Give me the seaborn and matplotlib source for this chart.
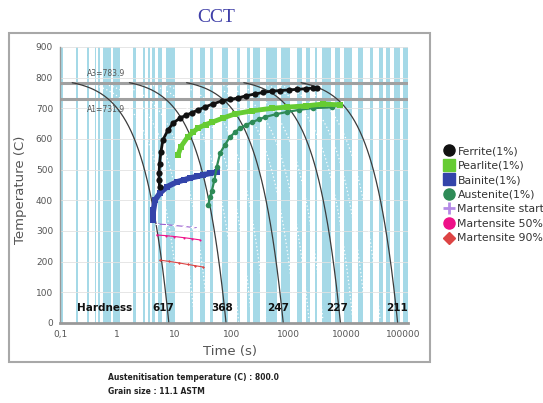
import numpy as np
import matplotlib
matplotlib.use("Agg")
import matplotlib.pyplot as plt
import seaborn as sns
from matplotlib.lines import Line2D
from matplotlib.patches import Rectangle
from matplotlib.ticker import FixedLocator, NullLocator, MultipleLocator

# ---------------- data ----------------
austenitisation_T = 800.0
cooling_rates = [100, 10, 1, 0.1, 0.01]            # main cooling curves (C/s)
minor_rates = [60, 35, 20, 6, 3.5, 2, 0.6, 0.35, 0.2, 0.06, 0.035, 0.02]
hardness_values = [617, 368, 247, 227, 211]
hardness_times = [6.3, 68, 650, 6900, 78000]
hardness_title_time = 0.61
hardness_T = 49

A3_T = 783.9
A1_T = 731.9

ferrite_t = [5.5, 5.4, 5.4, 5.5, 5.8, 6.3, 7.7, 9.5, 12.5, 16, 20, 26, 34, 48, 68, 95,
             130, 180, 260, 360, 500, 700, 1000, 1400, 2000, 2600, 3100]
ferrite_T = [445, 465, 490, 520, 557, 597, 629, 652, 668, 678, 685, 695, 704, 715, 724, 729,
             734, 741, 747, 752, 756, 758, 760, 762, 764, 766, 767]

pearlite_t = [11.6, 13, 17, 21, 26, 35, 46, 70, 115, 230, 500, 930, 2000, 4000, 8000]
pearlite_T = [548, 575, 606, 622, 636, 647, 655, 668, 682, 692, 700, 704, 708, 714, 711]

bainite_t = [4.2, 4.2, 4.3, 4.6, 5.6, 7.4, 11, 15, 19, 25, 32, 42, 55]
bainite_T = [336, 350, 368, 401, 424, 444, 460, 467, 473, 478, 483, 488, 492]

austenite_t = [39, 42, 45, 50, 55, 63, 76, 93, 115, 140, 180, 230, 300, 390, 600, 930,
               1500, 2700, 5700]
austenite_T = [385, 410, 430, 466, 509, 554, 580, 606, 622, 636, 646, 655, 664, 672, 681, 688,
               695, 701, 703]

ms_start_t = [4.9, 7, 10, 15, 20, 25]
ms_start_T = [323, 321, 318, 315, 312, 310]
ms50_t = [4.9, 7, 10, 15, 20, 28]
ms50_T = [287, 285, 282, 278, 275, 271]
ms90_t = [5.6, 8, 12, 17, 23, 31]
ms90_T = [205, 201, 196, 191, 187, 183]

band_start_log = [-1.000, -0.720, -0.528, -0.388, -0.336, -0.248, -0.073, 0.276, 0.451, 0.538,
                  0.608, 0.713, 0.853, 1.273, 1.448, 1.622, 1.832, 2.094, 2.269, 2.374, 2.601,
                  2.864, 3.143, 3.301, 3.458, 3.580, 3.808, 3.965, 4.210, 4.420, 4.577, 4.699,
                  4.839, 4.997]
band_end_log = [-0.948, -0.685, -0.493, -0.371, -0.301, -0.108, 0.049, 0.329, 0.486, 0.573,
                0.661, 0.783, 1.010, 1.325, 1.535, 1.675, 1.937, 2.147, 2.322, 2.497, 2.794,
                3.021, 3.231, 3.371, 3.493, 3.738, 3.895, 4.105, 4.297, 4.472, 4.647, 4.769,
                4.944, 5.084]

x_tick_values = [0.1, 1, 10, 100, 1000, 10000, 100000]
x_tick_labels = ["0,1", "1", "10", "100", "1000", "10000", "100000"]
y_tick_values = [0, 100, 200, 300, 400, 500, 600, 700, 800, 900]

legend_labels = ["Ferrite(1%)", "Pearlite(1%)", "Bainite(1%)", "Austenite(1%)",
                 "Martensite start", "Martensite 50%", "Martensite 90%"]

# ---------------- style ----------------
sns.set_style("white")
plt.rcParams['font.family'] = ['DejaVu Sans']

W, H = 543, 403
fig = plt.figure(figsize=(W / 100, H / 100), dpi=100)
fig.patch.set_facecolor("white")
ax = fig.add_axes([60 / W, 1 - 323 / H, (408 - 60) / W, (323 - 47) / H])
ax.set_xscale("log")
ax.set_xlim(0.1, 10 ** 5.084)
ax.set_ylim(0, 900)

# light blue vertical bands
for a, b in zip(band_start_log, band_end_log):
    ax.axvspan(10 ** a, 10 ** b, color="#a5d9e7", lw=0, zorder=1)

# faint horizontal grid
for yv in y_tick_values[1:]:
    ax.axhline(yv, color="#e2e2e2", lw=0.6, zorder=1.2)

# cooling curves (shown below the A3 line)
t_grid = np.logspace(-1, 5.1, 800)
for r in minor_rates:
    T = austenitisation_T - r * t_grid
    m = (T >= 0) & (T <= A3_T)
    ax.plot(t_grid[m], T[m], color="white", lw=0.9, ls=(0, (1, 2)), zorder=1.5)
for r in cooling_rates:
    T = austenitisation_T - r * t_grid
    m = (T >= -5) & (T <= A3_T)
    ax.plot(t_grid[m], T[m], color="#3c3c3c", lw=0.9, zorder=3)

# A3 / A1 lines
ax.axhline(A3_T, color="#a0a0a0", lw=2.2, zorder=2.5)
ax.axhline(A1_T, color="#a0a0a0", lw=2.2, zorder=2.5)
ax.text(0.30, 812, f"A3={A3_T}", fontsize=5.5, color="#555555", va="center", zorder=6)
ax.text(0.30, 697, f"A1={A1_T}", fontsize=5.5, color="#555555", va="center", zorder=6)

# transformation curves
c_fer, c_pea, c_bai, c_aus = "#111111", "#66cc33", "#3344aa", "#2e8b57"
c_ms, c_m50, c_m90 = "#9b5fd0", "#ee1188", "#dd4444"

sns.lineplot(x=bainite_t, y=bainite_T, sort=False, estimator=None, color=c_bai, lw=4,
             marker="s", markersize=4, markeredgewidth=0, ax=ax, zorder=5)
sns.lineplot(x=austenite_t, y=austenite_T, sort=False, estimator=None, color=c_aus, lw=1.6,
             marker="o", markersize=4, markeredgewidth=0, ax=ax, zorder=5)
sns.lineplot(x=pearlite_t, y=pearlite_T, sort=False, estimator=None, color=c_pea, lw=3.5,
             marker="s", markersize=4.5, markeredgewidth=0, ax=ax, zorder=5)
sns.lineplot(x=ferrite_t, y=ferrite_T, sort=False, estimator=None, color=c_fer, lw=2,
             marker="o", markersize=4.5, markeredgewidth=0, ax=ax, zorder=6)
sns.lineplot(x=ms_start_t, y=ms_start_T, sort=False, estimator=None, color=c_ms, lw=0.8,
             marker="+", markersize=3, ax=ax, zorder=5)
sns.lineplot(x=ms50_t, y=ms50_T, sort=False, estimator=None, color=c_m50, lw=0.8,
             marker="o", markersize=1.5, markeredgewidth=0, ax=ax, zorder=5)
sns.lineplot(x=ms90_t, y=ms90_T, sort=False, estimator=None, color=c_m90, lw=0.8,
             marker="D", markersize=1.5, markeredgewidth=0, ax=ax, zorder=5)

# hardness labels
ax.text(hardness_title_time, hardness_T, "Hardness", fontsize=7.5, weight="bold",
        ha="center", va="center", color="#111111", zorder=7)
for t, h in zip(hardness_times, hardness_values):
    ax.text(t, hardness_T, str(h), fontsize=7.5, weight="bold", ha="center", va="center",
            color="#111111", zorder=7)

# axes styling
ax.xaxis.set_major_locator(FixedLocator(x_tick_values))
ax.xaxis.set_minor_locator(NullLocator())
ax.set_xticklabels(x_tick_labels)
ax.yaxis.set_major_locator(FixedLocator(y_tick_values))
ax.yaxis.set_minor_locator(MultipleLocator(50))
ax.tick_params(axis="both", which="major", direction="out", length=3, width=0.8,
               color="#888888", labelsize=6.5, labelcolor="#555555", pad=2)
ax.tick_params(axis="y", which="minor", direction="out", length=2, width=0.6, color="#999999")
for s in ["top", "right"]:
    ax.spines[s].set_visible(False)
ax.spines["left"].set_color("#999999")
ax.spines["left"].set_linewidth(1.0)
ax.spines["bottom"].set_color("#999999")
ax.spines["bottom"].set_linewidth(2.0)
ax.set_xlabel("")
ax.set_ylabel("")
if ax.get_legend() is not None:
    ax.get_legend().remove()

fig.text(21 / W, 1 - 190 / H, "Temperature (C)", rotation=90, ha="center", va="center",
         fontsize=9.5, color="#555555")
fig.text(230 / W, 1 - 352 / H, "Time (s)", ha="center", va="center", fontsize=9.5,
         color="#555555")

# title and bottom info
fig.text(216 / W, 1 - 17 / H, "CCT", family="Liberation Serif", fontsize=14,
         color="#3f3fa8", ha="center", va="center")
fig.text(108 / W, 1 - 378 / H, f"Austenitisation temperature (C) : {austenitisation_T}",
         fontsize=5.5, weight="bold", color="#222222", va="center")
fig.text(108 / W, 1 - 392 / H, "Grain size : 11.1 ASTM", fontsize=5.5, weight="bold",
         color="#222222", va="center")

# frame around the chart
fig.patches.append(Rectangle((9 / W, 1 - 362 / H), (430 - 9) / W, (362 - 33) / H,
                             transform=fig.transFigure, fill=False, ec="#a8a8a8", lw=1.5))

# legend
handles = [
    Line2D([], [], ls="none", marker="o", color=c_fer, markersize=8),
    Line2D([], [], ls="none", marker="s", color=c_pea, markersize=8),
    Line2D([], [], ls="none", marker="s", color=c_bai, markersize=8),
    Line2D([], [], ls="none", marker="o", color=c_aus, markersize=8),
    Line2D([], [], ls="none", marker="+", color="#b48ae6", markersize=8, markeredgewidth=2),
    Line2D([], [], ls="none", marker="o", color=c_m50, markersize=8),
    Line2D([], [], ls="none", marker="D", color=c_m90, markersize=6),
]
fig.legend(handles, legend_labels, loc="upper left", bbox_to_anchor=(445 / W, 1 - 146 / H),
           frameon=False, fontsize=7.8, handlelength=0.8, handletextpad=0.35,
           labelspacing=0.42, borderaxespad=0, borderpad=0, labelcolor="#333333")

fig.savefig("out.png", dpi=100, facecolor="white")
